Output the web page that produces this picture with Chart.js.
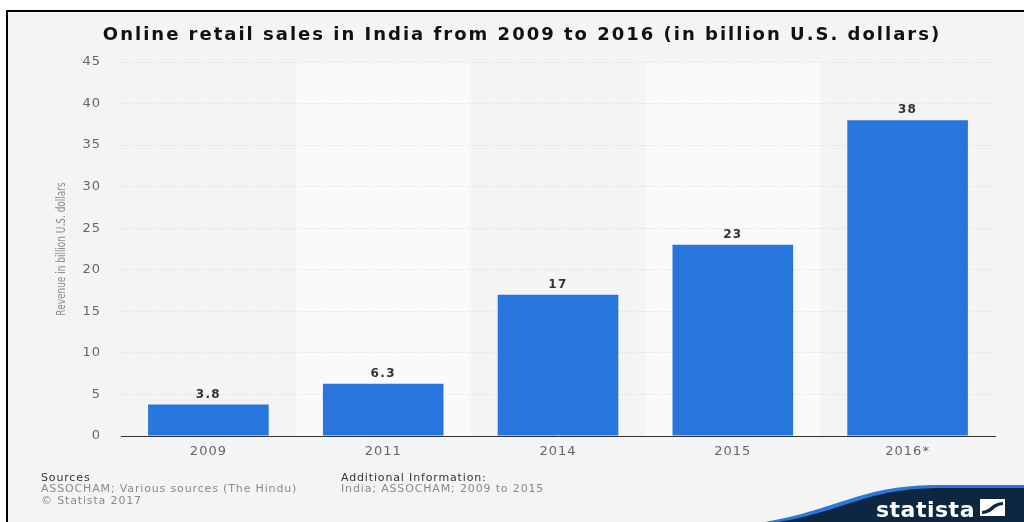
<!DOCTYPE html>
<html>
<head>
<meta charset="utf-8">
<script src="https://cdn.jsdelivr.net/npm/chart.js@4/dist/chart.umd.min.js"></script>
<style>
  html, body { margin: 0; padding: 0; background: #ffffff; }
  #wrap { width: 1024px; height: 522px; position: relative; }
  canvas { display: block; }
</style>
</head>
<body>
<div id="wrap"><canvas id="c" width="1024" height="522"></canvas></div>
<script>
// Online retail sales in India, billion U.S. dollars
const years = ['2009', '2011', '2014', '2015', '2016*'];
const revenue = [3.8, 6.3, 17, 23, 38];
const valueLabels = ['3.8', '6.3', '17', '23', '38'];
const yTicks = [0, 5, 10, 15, 20, 25, 30, 35, 40, 45];

const titleText = 'Online retail sales in India from 2009 to 2016 (in billion U.S. dollars)';
const yTitle = 'Revenue in billion U.S. dollars';
const sourceLines = ['Sources', 'ASSOCHAM; Various sources (The Hindu)', '\u00A9 Statista 2017'];
const infoLines = ['Additional Information:', 'India; ASSOCHAM; 2009 to 2015'];

const FONT = "'DejaVu Sans', Verdana, sans-serif";
const NARROW = "'Liberation Sans Narrow', 'DejaVu Sans Condensed', sans-serif";
const BAR = '#2876dd';

// slightly tracked-out text everywhere on the canvas
const tracking = {
  id: 'tracking',
  beforeUpdate(chart) { chart.ctx.letterSpacing = '1px'; },
  beforeLayout(chart) { chart.ctx.letterSpacing = '1px'; },
  beforeDraw(chart) { chart.ctx.letterSpacing = '1px'; }
};

// page background, frame, alternating column bands, heading, axis caption
const backdrop = {
  id: 'backdrop',
  beforeDraw(chart) {
    const { ctx, chartArea: a } = chart;
    ctx.save();
    ctx.fillStyle = '#ffffff';
    ctx.fillRect(0, 0, chart.width, chart.height);
    ctx.fillStyle = '#f4f4f4';
    ctx.fillRect(7, 11, chart.width - 7, chart.height - 11);
    ctx.fillStyle = '#000000';
    ctx.fillRect(7, 10, chart.width - 7, 2);
    ctx.fillRect(6, 10, 2, chart.height - 10);
    const step = (a.right - a.left) / years.length;
    ctx.fillStyle = '#fafafa';
    years.forEach((_, i) => {
      if (i % 2 === 1) {
        ctx.fillRect(a.left + i * step, a.top, step, a.bottom - a.top);
      }
    });

    // heading
    ctx.letterSpacing = '2px';
    ctx.font = 'bold 18px ' + FONT;
    ctx.fillStyle = '#111111';
    ctx.textAlign = 'center';
    ctx.textBaseline = 'middle';
    ctx.fillText(titleText, 522, 35);

    // rotated y-axis caption, condensed
    ctx.letterSpacing = '0px';
    ctx.translate(62, (a.top + a.bottom) / 2);
    ctx.rotate(-Math.PI / 2);
    ctx.scale(0.83, 1);
    ctx.font = '12px ' + NARROW;
    ctx.fillStyle = '#8a8a8a';
    ctx.fillText(yTitle, 0, 0);
    ctx.restore();
  }
};

// value labels over each bar
const barValues = {
  id: 'barValues',
  afterDatasetsDraw(chart) {
    const { ctx } = chart;
    const meta = chart.getDatasetMeta(0);
    ctx.save();
    ctx.letterSpacing = '1.3px';
    ctx.font = 'bold 12px ' + FONT;
    ctx.fillStyle = '#333333';
    ctx.textAlign = 'center';
    ctx.textBaseline = 'bottom';
    meta.data.forEach((bar, i) => {
      ctx.fillText(valueLabels[i], bar.x, bar.y - 4);
    });
    ctx.restore();
  }
};

// footer notes and brand mark
const footer = {
  id: 'footer',
  afterDraw(chart) {
    const { ctx } = chart;
    ctx.save();
    ctx.letterSpacing = '0.85px';
    ctx.font = '11px ' + FONT;
    ctx.textBaseline = 'middle';
    ctx.textAlign = 'left';
    sourceLines.forEach((t, i) => {
      ctx.fillStyle = i === 0 ? '#333333' : '#8a8a8a';
      ctx.fillText(t, 41, 478 + i * 11.5);
    });
    infoLines.forEach((t, i) => {
      ctx.fillStyle = i === 0 ? '#333333' : '#8a8a8a';
      ctx.fillText(t, 341, 478 + i * 11.5);
    });

    // swoosh
    const W = chart.width, H = chart.height;
    ctx.beginPath();
    ctx.moveTo(765, H);
    ctx.bezierCurveTo(835, H - 12, 862, H - 36, 932, H - 37);
    ctx.lineTo(W, H - 37);
    ctx.lineTo(W, H);
    ctx.closePath();
    ctx.fillStyle = '#2a78dc';
    ctx.fill();
    ctx.beginPath();
    ctx.moveTo(778, H);
    ctx.bezierCurveTo(842, H - 10, 866, H - 33, 936, H - 34);
    ctx.lineTo(W, H - 34);
    ctx.lineTo(W, H);
    ctx.closePath();
    ctx.fillStyle = '#0d2740';
    ctx.fill();

    ctx.fillStyle = '#ffffff';
    ctx.letterSpacing = '0.5px';
    ctx.font = 'bold 22px ' + FONT;
    ctx.textBaseline = 'alphabetic';
    ctx.fillText('statista', 876, 517);
    // icon
    const ix = 980, iy = 499, iw = 25, ih = 17;
    ctx.fillRect(ix, iy, iw, ih);
    ctx.fillStyle = '#0d2740';
    ctx.beginPath();
    ctx.moveTo(ix + 2, iy + ih - 5);
    ctx.bezierCurveTo(ix + 10, iy + ih - 5, ix + 12, iy + 3, ix + iw - 2, iy + 3);
    ctx.lineTo(ix + iw - 2, iy + 6);
    ctx.bezierCurveTo(ix + 14, iy + 6, ix + 13, iy + ih - 2, ix + 2, iy + ih - 2);
    ctx.closePath();
    ctx.fill();
    ctx.restore();
  }
};

new Chart(document.getElementById('c'), {
  type: 'bar',
  data: {
    labels: years,
    datasets: [{
      data: revenue,
      backgroundColor: BAR,
      borderWidth: 0,
      barPercentage: 0.69,
      categoryPercentage: 1.0
    }]
  },
  options: {
    responsive: false,
    animation: false,
    devicePixelRatio: 1,
    layout: { padding: { left: 50, right: 29, top: 62, bottom: 56 } },
    plugins: {
      legend: { display: false },
      tooltip: { enabled: false },
      title: { display: false }
    },
    scales: {
      x: {
        grid: { display: false, drawTicks: false },
        border: { display: true, color: '#333333', width: 1 },
        ticks: { color: '#666666', font: { family: FONT, size: 13 }, padding: 8 },
        afterFit(s) { s.height = 30; }
      },
      y: {
        min: 0,
        max: 45,
        afterBuildTicks(s) { s.ticks = yTicks.map(v => ({ value: v })); },
        grid: { color: '#d9d9d9', lineWidth: 1, drawTicks: false },
        border: { display: false, dash: [1, 2] },
        ticks: { color: '#666666', font: { family: FONT, size: 13 }, padding: 20 },
        afterFit(s) { s.width = 71; }
      }
    }
  },
  plugins: [tracking, backdrop, barValues, footer]
});
</script>
</body>
</html>
